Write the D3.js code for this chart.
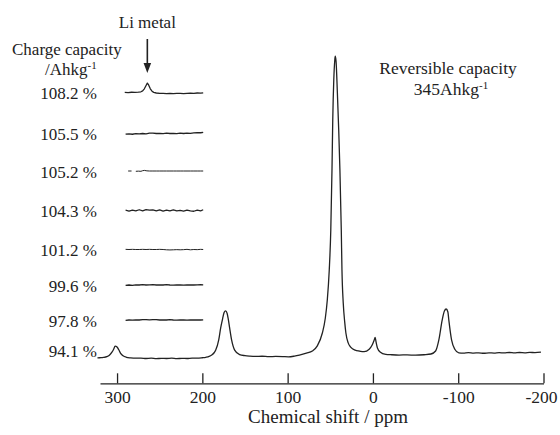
<!DOCTYPE html>
<html>
<head>
<meta charset="utf-8">
<script src="https://cdn.jsdelivr.net/npm/d3@7"></script>
<style>
  html, body { margin: 0; padding: 0; background: #fff; }
  svg { display: block; font-family: "Liberation Serif", "Times New Roman", serif; }
</style>
</head>
<body>
<svg id="chart" width="560" height="435"></svg>
<script>
// ---- 7Li NMR spectrum, full charge (94.1 %) ----
const mainPpm = [323, 320, 316, 312, 309, 306, 304, 302.3, 300, 298, 296, 293, 289, 284, 278, 272, 266, 260, 254, 248, 242, 236, 230, 224, 218, 212, 206, 200, 196, 192, 189, 186, 184.3, 180.8, 178.5, 176.2, 174.5, 172.7, 171, 169.7, 168, 165.7, 162.1, 156.3, 150, 144.6, 138, 130, 122, 114, 106, 99, 92, 86.2, 78, 71, 65.2, 59.3, 55.8, 53.5, 51.2, 49.4, 48, 47.1, 45.9, 44.7, 44.2, 43.2, 41.8, 40.1, 38.7, 37.1, 36.3, 34.8, 33.1, 31.7, 29, 25.8, 20.8, 16.1, 10.3, 4.4, 0.9, -1.4, -2.6, -3.7, -5.3, -8.4, -15.1, -22, -30.6, -40, -50, -60, -68, -73.5, -77.3, -81.2, -83.8, -85.9, -87.9, -89, -92.2, -96, -100.7, -106, -112, -118, -124, -130, -136, -142, -148, -154, -160, -166, -172, -178, -184, -190, -197];
const mainIntensity = [0.7, 0.75, 0.85, 1.1, 1.6, 2.6, 3.6, 4.6, 4.3, 3.4, 2.3, 1.4, 0.9, 0.7, 0.6, 0.65, 0.5, 0.6, 0.45, 0.55, 0.5, 0.6, 0.45, 0.55, 0.5, 0.65, 0.6, 0.75, 0.9, 1.2, 1.7, 2.5, 3.3, 6.7, 10.7, 13.8, 15.8, 16.4, 15.6, 13.8, 10.7, 6.7, 3.3, 1.8, 1.45, 1.3, 1.2, 1.25, 1.1, 1.2, 1.15, 1.05, 1.3, 1.65, 2.3, 3.0, 4.7, 9, 14, 20, 30, 43.3, 63.3, 80, 93.3, 100, 101.3, 99.5, 90, 76.7, 63.3, 43.3, 30, 19, 12.7, 9, 5.7, 4.2, 3.3, 3.0, 2.8, 3.6, 5, 6.6, 7.5, 6, 4, 2.7, 1.9, 1.75, 1.65, 1.7, 1.6, 1.75, 2.0, 3.0, 6.7, 13.3, 16.3, 17, 16, 13.3, 6.7, 3.6, 2.4, 2.3, 2.45, 2.3, 2.4, 2.25, 2.4, 2.3, 2.45, 2.35, 2.5, 2.35, 2.5, 2.4, 2.55, 2.45, 2.6];

// ---- Li-metal region (290–200 ppm) at each charge capacity ----
const chargeLabels = ["108.2 %", "105.5 %", "105.2 %", "104.3 %", "101.2 %", "99.6 %", "97.8 %", "94.1 %"];

const insetPpm = [290, 286, 282, 278, 274, 270, 266, 262, 258, 254, 250, 246, 242, 238, 234, 230, 226, 222, 218, 214, 210, 206, 202, 199];

const ppm1082 = [291, 287, 283, 279, 275, 272, 270, 268, 266, 264.5, 263, 261, 259, 257, 254, 250, 246, 242, 238, 234, 230, 226, 222, 218, 214, 210, 206, 202, 199];
const val1082 = [0.1, 0.05, 0.15, 0.1, 0.2, 0.3, 0.6, 1.3, 2.4, 3.2, 2.6, 1.3, 0.5, 0.1, -0.1, -0.25, -0.2, -0.3, -0.2, -0.3, -0.25, -0.2, -0.3, -0.2, -0.15, -0.2, -0.1, -0.15, -0.05];

const val1055 = [-0.2, -0.1, -0.25, -0.05, -0.15, 0.0, -0.1, 0.1, 0.15, 0.0, 0.05, -0.05, 0.1, 0.0, 0.05, -0.05, 0.1, 0.0, 0.15, 0.05, 0.2, 0.3, 0.25, 0.4];

const ppm1052 = [287, 283, 281, 278, 275, 272, 270, 268, 265, 262, 258, 254, 250, 246, 242, 238, 234, 230, 226, 222, 218, 214, 210, 206, 202, 199];
const val1052 = [0.0, 0.0, null, -0.1, -0.05, -0.1, 0.1, 0.2, 0.05, 0.0, 0.0, 0.0, 0.0, 0.0, 0.0, 0.0, 0.0, 0.0, 0.0, 0.0, 0.0, 0.0, 0.0, 0.0, 0.0, 0.0];

const val1043 = [0.1, -0.2, 0.15, -0.1, 0.25, -0.15, 0.3, 0.1, 0.2, -0.1, 0.2, -0.2, 0.1, -0.15, 0.2, -0.1, 0.05, -0.2, 0.15, -0.1, -0.25, 0.1, -0.1, 0.25];
const val1012 = [0.05, 0.0, 0.05, 0.0, 0.0, 0.05, 0.0, 0.05, 0.0, 0.0, 0.05, 0.0, -0.1, -0.15, -0.1, -0.05, -0.1, -0.05, 0.05, -0.1, 0.0, -0.05, 0.05, 0.0];
const val996 = [-0.1, 0.0, -0.15, 0.05, 0.0, 0.1, 0.0, 0.05, 0.1, 0.0, 0.05, 0.0, 0.1, 0.0, -0.05, 0.05, 0.0, -0.05, 0.0, 0.05, 0.0, 0.05, 0.1, 0.05];
const val978 = [-0.1, 0.0, -0.05, 0.05, 0.0, 0.1, 0.1, 0.05, 0.15, 0.1, 0.0, 0.05, 0.0, 0.1, 0.0, -0.05, 0.0, 0.05, -0.05, 0.0, 0.0, 0.05, 0.0, 0.05];

const xTicks = [300, 200, 100, 0, -100, -200];
const liMetalShift = 264.5;

// ---- layout ----
const ink = "#222";
const axisY = 383.3;
const rowY = [92.7, 133.5, 171, 210.5, 249.5, 285, 320, 350.5];   // vertical offset of each stacked trace
const labelRight = 97;

const svg = d3.select("#chart");

const x = d3.scaleLinear().domain([320, -200]).range([100, 543.5]);
const y = d3.scaleLinear().domain([0, 100]).range([360, 60]);
const unit = y(0) - y(1);   // pixels per intensity unit

// full spectrum
const mainData = mainPpm.map((p, i) => [p, mainIntensity[i]]);
svg.append("path")
  .datum(mainData)
  .attr("fill", "none")
  .attr("stroke", ink)
  .attr("stroke-width", 1.3)
  .attr("stroke-linejoin", "round")
  .attr("d", d3.line().x(d => x(d[0])).y(d => y(d[1])).curve(d3.curveMonotoneX));

// stacked traces of the Li-metal region
const insets = [
  [ppm1082, val1082],
  [insetPpm, val1055],
  [ppm1052, val1052],
  [insetPpm, val1043],
  [insetPpm, val1012],
  [insetPpm, val996],
  [insetPpm, val978]
];
insets.forEach(([ppm, vals], i) => {
  const data = ppm.map((p, j) => [p, vals[j]]);
  const line = d3.line()
    .defined(d => d[1] !== null)
    .x(d => x(d[0]))
    .y(d => rowY[i] - d[1] * unit);
  svg.append("path")
    .datum(data)
    .attr("fill", "none")
    .attr("stroke", ink)
    .attr("stroke-width", i === 2 || i === 4 ? 1.0 : 1.3)
    .attr("stroke-linejoin", "round")
    .attr("d", line);
});

// capacity labels
svg.append("g")
  .selectAll("text")
  .data(chargeLabels)
  .join("text")
  .attr("x", labelRight)
  .attr("y", (d, i) => rowY[i] + 6.5)
  .attr("text-anchor", "end")
  .attr("font-size", 17)
  .attr("fill", ink)
  .text(d => d);

// column heading
svg.append("text")
  .attr("x", 12).attr("y", 55)
  .attr("font-size", 17).attr("fill", ink)
  .text("Charge capacity");
const unitLeft = svg.append("text")
  .attr("x", 45).attr("y", 75)
  .attr("font-size", 17).attr("fill", ink);
unitLeft.append("tspan").text("/Ahkg");
unitLeft.append("tspan").attr("font-size", 11).attr("dy", -6).text("-1");

// Li metal marker
const ax = x(liMetalShift);
svg.append("text")
  .attr("x", ax).attr("y", 28)
  .attr("text-anchor", "middle")
  .attr("font-size", 17).attr("fill", ink)
  .text("Li metal");
svg.append("line")
  .attr("x1", ax).attr("x2", ax)
  .attr("y1", 39).attr("y2", 66)
  .attr("stroke", ink).attr("stroke-width", 1.6);
svg.append("path")
  .attr("d", `M${ax - 3.8},63 L${ax + 3.8},63 L${ax},73 Z`)
  .attr("fill", ink);

// reversible capacity note
svg.append("text")
  .attr("x", 448).attr("y", 74)
  .attr("text-anchor", "middle")
  .attr("font-size", 17.5).attr("fill", ink)
  .text("Reversible capacity");
const revUnit = svg.append("text")
  .attr("x", 451).attr("y", 95)
  .attr("text-anchor", "middle")
  .attr("font-size", 17.5).attr("fill", ink);
revUnit.append("tspan").text("345Ahkg");
revUnit.append("tspan").attr("font-size", 11).attr("dy", -6).text("-1");

// chemical shift axis
const axis = d3.axisBottom(x)
  .tickValues(xTicks)
  .tickFormat(d => String(d))
  .tickSizeInner(-10)
  .tickSizeOuter(0)
  .tickPadding(6.8);
const gx = svg.append("g")
  .attr("transform", `translate(0,${axisY})`)
  .call(axis);
gx.select(".domain").attr("stroke", ink).attr("stroke-width", 1.3);
gx.selectAll(".tick line").attr("stroke", ink).attr("stroke-width", 1.3);
gx.selectAll(".tick text")
  .attr("fill", ink)
  .attr("font-size", 17.5)
  .attr("font-family", "Liberation Serif, Times New Roman, serif")
  .attr("dx", d => d === -200 ? -2.5 : 0);

svg.append("text")
  .attr("x", 328).attr("y", 423)
  .attr("text-anchor", "middle")
  .attr("font-size", 19).attr("fill", ink)
  .text("Chemical shift / ppm");
</script>
</body>
</html>
